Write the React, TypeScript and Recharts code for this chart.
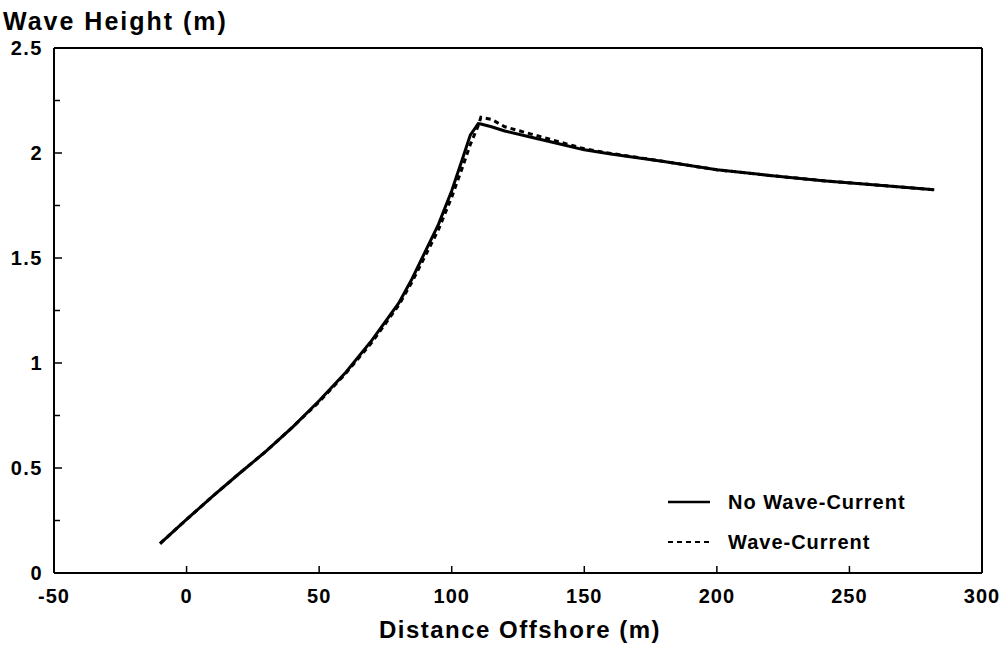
import { LineChart, Line, XAxis, YAxis } from "recharts";

const distance = [-10, 0, 10, 20, 30, 40, 50, 60, 70, 80, 85, 90, 95, 100, 104, 107, 110, 111, 115, 120, 130, 140, 150, 160, 180, 200, 220, 240, 260, 282];
const noWaveCurrent = [0.14, 0.255, 0.367, 0.475, 0.58, 0.695, 0.82, 0.955, 1.11, 1.285, 1.4, 1.53, 1.66, 1.82, 1.97, 2.085, 2.14, 2.138, 2.125, 2.105, 2.075, 2.045, 2.015, 1.995, 1.96, 1.92, 1.893, 1.868, 1.848, 1.825];
const waveCurrent = [0.14, 0.255, 0.367, 0.475, 0.58, 0.695, 0.815, 0.95, 1.1, 1.275, 1.385, 1.51, 1.635, 1.79, 1.93, 2.04, 2.13, 2.17, 2.16, 2.125, 2.09, 2.055, 2.02, 1.998, 1.96, 1.92, 1.893, 1.868, 1.848, 1.825];

const xTicks = [-50, 0, 50, 100, 150, 200, 250, 300];
const yTicks = [0, 0.25, 0.5, 0.75, 1, 1.25, 1.5, 1.75, 2, 2.25, 2.5];

const seriesNames = ["No Wave-Current", "Wave-Current"];

const data = distance.map((d, i) => ({
  distance: d,
  noWave: noWaveCurrent[i],
  wave: waveCurrent[i],
}));

const FONT = "'Liberation Sans', Arial, sans-serif";

function XTick({ x, y, payload }: any) {
  return (
    <g>
      <line x1={x} y1={y} x2={x} y2={y - 7} stroke="#000" strokeWidth={1.5} />
      <text x={x} y={y + 30} textAnchor="middle" fontFamily={FONT} fontWeight="bold" fontSize={20} letterSpacing={1} fill="#000">
        {payload.value}
      </text>
    </g>
  );
}

function YTick({ x, y, payload }: any) {
  const major = payload.value % 0.5 === 0;
  return (
    <g>
      <line x1={x} y1={y} x2={x + (major ? 8 : 6)} y2={y} stroke="#000" strokeWidth={1.5} />
      {major && (
        <text x={x - 11} y={y + 7} textAnchor="end" fontFamily={FONT} fontWeight="bold" fontSize={20} letterSpacing={1.5} fill="#000">
          {payload.value}
        </text>
      )}
    </g>
  );
}

export default function App() {
  return (
    <div style={{ position: "absolute", left: 0, top: 0, width: 1007, height: 649, background: "#fff" }}>
      <div style={{ position: "absolute", left: 3, top: 8, fontFamily: FONT, fontWeight: "bold", fontSize: 25, letterSpacing: 2, lineHeight: "26px" }}>
        Wave Height (m)
      </div>
      <div style={{ position: "absolute", left: 0, width: 1040, top: 616, textAlign: "center", fontFamily: FONT, fontWeight: "bold", fontSize: 24, letterSpacing: 1.5, lineHeight: "28px" }}>
        Distance Offshore (m)
      </div>
      <div style={{ position: "absolute", left: 668, top: 482, fontFamily: FONT, fontWeight: "bold", fontSize: 20, letterSpacing: 1 }}>
        {seriesNames.map((name, i) => (
          <div key={name} style={{ display: "flex", alignItems: "center", height: 40 }}>
            <svg width={60} height={10}>
              <line x1={0} y1={5} x2={42} y2={5} stroke="#000" strokeWidth={i === 0 ? 2.5 : 2} strokeDasharray={i === 0 ? undefined : "5 4"} />
            </svg>
            <span>{name}</span>
          </div>
        ))}
      </div>
      <LineChart width={1007} height={649} data={data} margin={{ top: 47, right: 24, bottom: 46, left: 24 }} style={{ position: "absolute", left: 0, top: 0 }}>
        <XAxis
          dataKey="distance"
          type="number"
          domain={[-50, 300]}
          ticks={xTicks}
          height={30}
          tickSize={0}
          tickMargin={0}
          tickLine={false}
          tick={<XTick />}
          axisLine={{ stroke: "#000", strokeWidth: 2 }}
          interval={0}
        />
        <XAxis xAxisId="top" orientation="top" dataKey="distance" type="number" domain={[-50, 300]} height={1} tick={false} tickLine={false} axisLine={{ stroke: "#000", strokeWidth: 2 }} />
        <YAxis
          type="number"
          domain={[0, 2.5]}
          ticks={yTicks}
          width={30}
          tickSize={0}
          tickMargin={0}
          tickLine={false}
          tick={<YTick />}
          axisLine={{ stroke: "#000", strokeWidth: 2 }}
          interval={0}
        />
        <YAxis yAxisId="right" orientation="right" domain={[0, 2.5]} width={1} tick={false} tickLine={false} axisLine={{ stroke: "#000", strokeWidth: 2 }} />
        <Line dataKey="wave" name={seriesNames[1]} stroke="#000" strokeWidth={3} strokeDasharray="5 4" dot={false} type="linear" isAnimationActive={false} />
        <Line dataKey="noWave" name={seriesNames[0]} stroke="#000" strokeWidth={3} dot={false} type="linear" isAnimationActive={false} />
      </LineChart>
    </div>
  );
}
